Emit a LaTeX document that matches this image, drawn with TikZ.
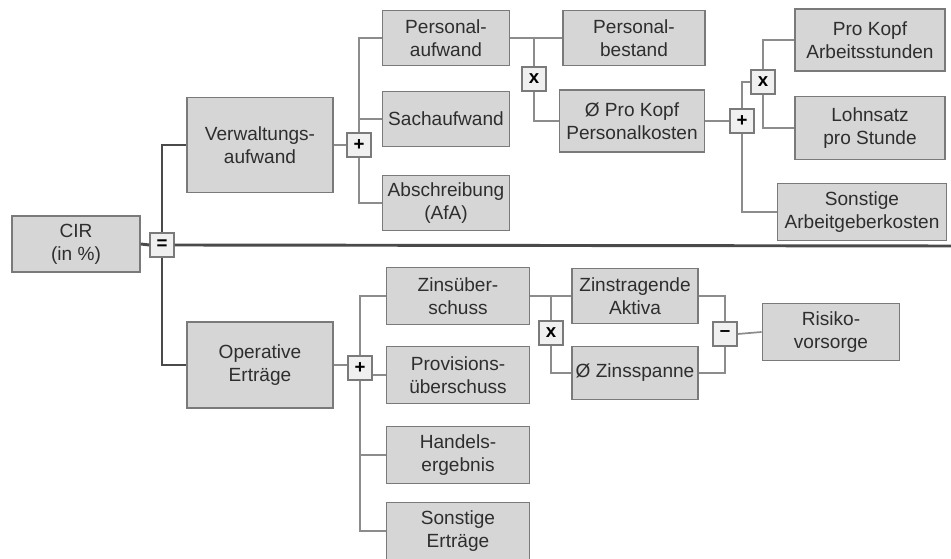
\documentclass[tikz,border=0pt]{standalone}
\usepackage{fontspec}
\setmainfont{Liberation Sans}
\usepackage{xcolor}
\usepackage{tikz}
\usetikzlibrary{calc}

\definecolor{boxfill}{HTML}{D6D6D6}
\definecolor{boxline}{HTML}{7A7A7A}
\definecolor{subline}{HTML}{8C8C8C}
\definecolor{mainline}{HTML}{4A4A4A}
\definecolor{txt}{HTML}{2E2E2E}

\tikzset{
  kpi/.style={draw=boxline, fill=boxfill, line width=1.2pt, align=center,
    text=txt, inner sep=1pt, minimum width=95pt, minimum height=41pt,
    font=\fontsize{14.3}{17.3}\selectfont},
  op/.style={draw=boxline, fill=gray!12, line width=1pt, minimum size=18pt,
    inner sep=0pt, text=black, font=\fontsize{14}{14}\selectfont\bfseries},
  stem/.style={draw=subline, line width=1.3pt},
  trunk/.style={draw=mainline, line width=2.2pt}
}

\begin{document}
\begin{tikzpicture}[x=0.75pt, y=-0.75pt]
    \useasboundingbox (0,0) rectangle (951,559);

    % 1. Spitzenkennzahl und Ebene 1
    \node[kpi, minimum width=96pt, minimum height=42pt] (cir) at (76,244) {CIR\\(in \%)};
    \node[op] (eqop) at (162,245) {=};
    \node[kpi, minimum width=109.5pt, minimum height=71pt] (verw) at (260,145) {Verwaltungs-\\aufwand};
    \node[kpi, minimum width=109.5pt, minimum height=64.5pt] (oper) at (260,365) {Operative\\Ertr\"age};
    \coordinate (rand) at (951,246);

    % 2. Verwaltungsaufwand aufgliedern
    \node[op] (plusV) at (359,145) {+};
    \node[kpi] (persA) at (446,38) {Personal-\\aufwand};
    \node[kpi] (sachA) at (446,119) {Sachaufwand};
    \node[kpi] (abschr) at (446,203) {Abschreibung\\(AfA)};

    \node[op] (malP) at (534,79) {x};
    \node[kpi, minimum width=106.5pt] (persB) at (634,38) {Personal-\\bestand};
    \node[kpi, minimum width=109pt, minimum height=46.5pt] (pkPK) at (632,121) {\O{} Pro Kopf\\Personalkosten};

    \node[op] (plusP) at (742,121) {+};
    \node[op] (malA) at (763,82) {x};
    \node[kpi, minimum width=112.5pt, minimum height=46.5pt] (pkAS) at (870,40) {Pro Kopf\\Arbeitsstunden};
    \node[kpi, minimum width=112.5pt, minimum height=47pt] (lohn) at (870,128) {Lohnsatz\\pro Stunde};
    \node[kpi, minimum width=127pt, minimum height=43pt] (sonstAG) at (862,212) {Sonstige\\Arbeitgeberkosten};

    % 3. Operative Ertraege aufgliedern
    \node[op] (plusO) at (360,368) {+};
    \foreach \n/\y/\t in {zinsU/296/{Zins\"uber-\\schuss}, provU/375/{Provisions-\\\"uberschuss},
                          handel/455/{Handels-\\ergebnis}, sonstE/531/{Sonstige\\Ertr\"age}}
        \node[kpi, minimum width=107pt, minimum height=43pt] (\n) at (458,\y) {\t};

    \node[op] (malZ) at (551,333) {x};
    \node[kpi, minimum width=94.5pt] (zinsAk) at (635,296) {Zinstragende\\Aktiva};
    \node[kpi, minimum width=94.5pt, minimum height=40pt] (zinsSp) at (635,373) {\O{} Zinsspanne};
    \node[op] (minusR) at (725,334) {\textendash};
    \node[kpi, minimum width=103pt, minimum height=43pt] (risiko) at (831,332) {Risiko-\\vorsorge};

    % 4. Verbindungen (Hauptebene)
    \draw[trunk] (cir.east) -- (eqop.west);
    \draw[trunk] (eqop.east) -- (rand);
    \draw[trunk] (verw.west) -| (eqop.north);
    \draw[trunk] (oper.west) -| (eqop.south);

    % 5. Verbindungen (Unterebenen)
    \draw[stem] (verw.east) -- (plusV.west);
    \draw[stem] (persA.west) -| (plusV.north);
    \draw[stem] (abschr.west) -| (plusV.south);
    \draw[stem] (sachA.west) -- (sachA.west -| plusV);

    \draw[stem] (persA.east) -- (persB.west);
    \draw[stem] (malP.north) |- (persB.west);
    \draw[stem] (malP.south) |- (pkPK.west);

    \draw[stem] (pkPK.east) -- (plusP.west);
    \draw[stem] (plusP.north) |- (malA.west);
    \draw[stem] (plusP.south) |- (sonstAG.west);
    \draw[stem] (malA.north) |- (pkAS.west);
    \draw[stem] (malA.south) |- (lohn.west);

    \draw[stem] (oper.east) -- (oper.east -| plusO.west);
    \draw[stem] (plusO.north) |- (zinsU.west);
    \draw[stem] (plusO.south) |- (sonstE.west);
    \draw[stem] (plusO.east |- provU.west) -- (provU.west);
    \draw[stem] (handel.west) -- (handel.west -| plusO);

    \draw[stem] (zinsU.east) -- (zinsAk.west);
    \draw[stem] (malZ.north) |- (zinsAk.west);
    \draw[stem] (malZ.south) |- (zinsSp.west);
    \draw[stem] (zinsAk.east) -| (minusR.north);
    \draw[stem] (zinsSp.east) -| (minusR.south);
    \draw[stem] (minusR.east) -- (risiko.west);
\end{tikzpicture}
\end{document}
